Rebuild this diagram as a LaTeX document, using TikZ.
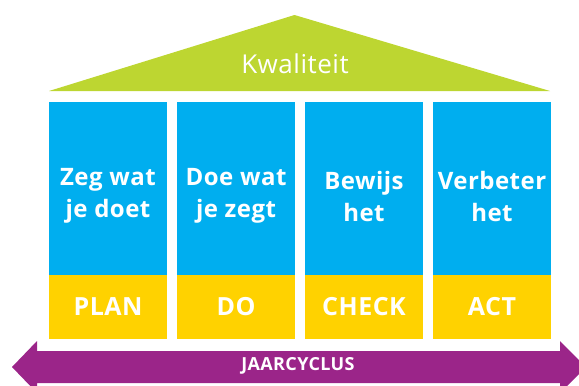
\documentclass[tikz,border=0pt]{standalone}
\usepackage{fontspec}
\setmainfont{Open Sans}[LetterSpace=2]
\definecolor{roofgreen}{HTML}{BDD631}
\definecolor{colblue}{HTML}{00AEEF}
\definecolor{colyellow}{HTML}{FFD200}
\definecolor{arrowpurple}{HTML}{9B2589}
\tikzset{
  bluecol/.style={fill=colblue, minimum width=118pt, minimum height=174pt, inner sep=0pt},
  coltext/.style={text=white, align=center, inner sep=0pt, font=\fontsize{24}{32}\selectfont\bfseries},
  yellowblock/.style={fill=colyellow, minimum width=118pt, minimum height=64pt, inner sep=0pt,
    text=white, font=\fontsize{25}{28}\selectfont\bfseries},
  rooftext/.style={text=white, font=\fontsize{26}{30}\selectfont},
  arrowtext/.style={text=white, font=\fontsize{18}{20}\selectfont\bfseries},
}
\begin{document}
\begin{tikzpicture}[x=1pt,y=-1pt]
\useasboundingbox (0,0) rectangle (579,386);
% roof
\coordinate (rl) at (49,91);
\coordinate (ra) at (294.5,15);
\coordinate (rr) at (550,91);
\fill[roofgreen] (rl) -- (ra) -- (rr) -- cycle;
\node[rooftext] (kw) at (295,64) {Kwaliteit};
% columns
\node[bluecol] (b1) at (108,189) {};
\node[bluecol] (b2) at (236,189) {};
\node[bluecol] (b3) at (364,189) {};
\node[bluecol] (b4) at (492,189) {};
\node[coltext] (t1) at (108,196) {Zeg wat\\je doet};
\node[coltext] (t2) at (236,196) {Doe wat\\je zegt};
\node[coltext] (t3) at (364,196) {Bewijs\\het};
\node[coltext] (t4) at (492,196) {Verbeter\\het};
\node[yellowblock] (y1) at (108,307) {PLAN};
\node[yellowblock] (y2) at (236,307) {DO};
\node[yellowblock] (y3) at (364,307) {CHECK};
\node[yellowblock] (y4) at (492,307) {ACT};
% arrow
\fill[arrowpurple] (12,367) -- (37,341) -- (37,351) -- (560,351) -- (560,341) -- (586,367)
  -- (560,393) -- (560,383) -- (37,383) -- (37,393) -- cycle;
\node[arrowtext] (jc) at (298,366) {JAARCYCLUS};
\end{tikzpicture}
\end{document}
